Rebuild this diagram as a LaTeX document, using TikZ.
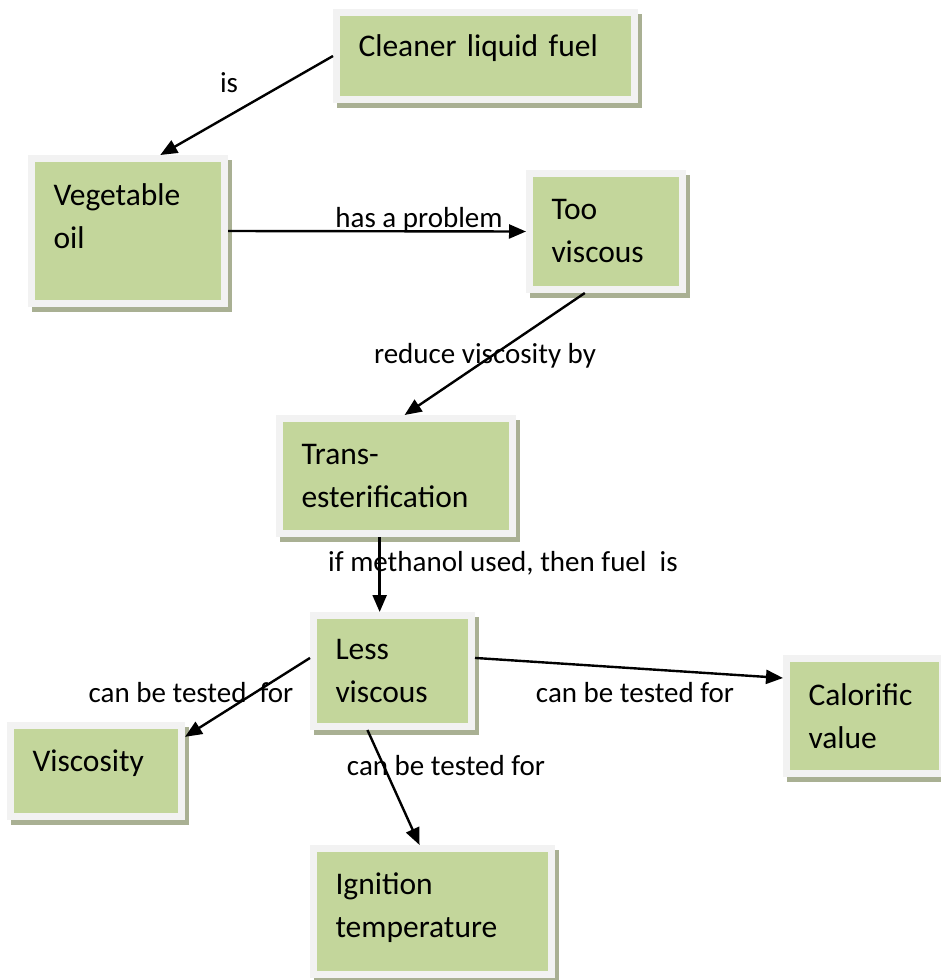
\documentclass[tikz,border=0pt]{standalone}
\usepackage{fontspec}
\setmainfont{Carlito}
\usetikzlibrary{arrows.meta, shadows}
\definecolor{leaf}{HTML}{C3D69B}
\definecolor{rim}{HTML}{F2F2F2}
\definecolor{rimshade}{HTML}{A9B093}
\newcommand{\lowpad}[1]{\rule[-#1]{0pt}{#1}}

\begin{document}
\begin{tikzpicture}[
    x=1pt, y=-1pt,
    concept/.style={draw=rim, fill=leaf, line width=7pt, rectangle, align=left, inner xsep=22pt, inner ysep=0pt,
        font=\fontsize{31.5}{43}\selectfont,
        general shadow={draw=rimshade, fill=rimshade, line width=7pt, shadow xshift=4pt, shadow yshift=-5pt}},
    link/.style={font=\fontsize{29}{35}\selectfont, anchor=base, inner sep=0pt},
    arrow/.style={-{Triangle[length=17pt, width=14pt]}, line width=2.4pt}
]
\useasboundingbox (0,0) rectangle (940,980);

% Nodes
\node (clean) [concept, text width=254pt, minimum height=87pt] at (485.5,56) {Cleaner liquid fuel\lowpad{20pt}};
\node (veg) [concept, text width=149pt, minimum height=145pt] at (128,231) {Vegetable\\oil\lowpad{30pt}};
\node (too) [concept, text width=109pt, minimum height=116pt] at (606,231.5) {Too\\viscous};
\node (trans) [concept, text width=189pt, minimum height=115pt] at (396,476) {Trans-\\esterification};
\node (less) [concept, text width=114pt, minimum height=111pt] at (392.5,671) {Less\\viscous};
\node (visc) [concept, text width=127pt, minimum height=91pt] at (96,771) {Viscosity\lowpad{20pt}};
\node (calor) [concept, text width=112pt, minimum height=115pt] at (864.5,716) {Calorific\\value};
\node (ign) [concept, text width=194pt, minimum height=126pt] at (432.5,911.5) {Ignition\\temperature\lowpad{12pt}};

% Labels
\node (lis) [link] at (229,92) {is};
\node (lproblem) [link] at (419,227) {has a problem};
\node (lreduce) [link] at (485,363) {reduce viscosity by};
\node (lmethanol) [link] at (503,571) {if methanol used, then fuel\ \ is};
\node (ltest1) [link] at (191,702) {can be tested\ \ for};
\node (ltest2) [link] at (635,702) {can be tested for};
\node (ltest3) [link] at (446,775) {can be tested for};

% Arrows
\draw [arrow] (clean.west) -- (veg.67);
\draw [arrow] (veg.east) -- (too.west);
\draw [arrow] (too.251) -- (trans.82);
\draw [arrow] (trans.255) -- (trans.255 |- less.north);
\draw [arrow] (less.171) -- (visc.21);
\draw [arrow] (less.9) -- (calor.155);
\draw [arrow] (less.247) -- (ign.101);

\end{tikzpicture}
\end{document}
